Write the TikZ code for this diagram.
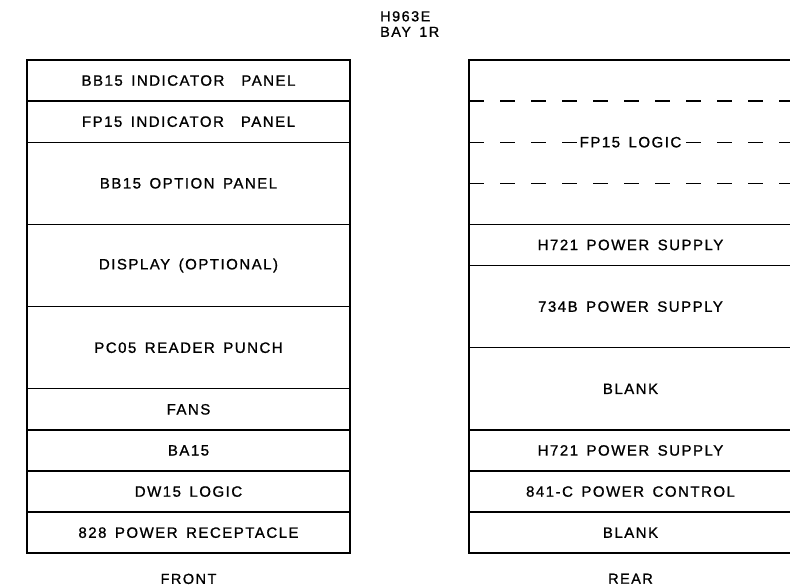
\documentclass[tikz,border=0pt]{standalone}
\usepackage{fontspec}
\setmainfont{Liberation Sans}
\newfontfamily\lettering{Liberation Sans}[LetterSpace=10, WordSpace=1.5, FakeBold=1]
\usepackage{tikz}
\usetikzlibrary{positioning, calc}

\newlength{\slotunit}
\setlength{\slotunit}{41.1pt}

\tikzset{
  slot/.style={draw, line width=1.3pt, minimum width=323pt,
    minimum height=#1\slotunit, inner sep=0pt, outer sep=0pt},
  slot/.default=1,
  baylabel/.style={font=\lettering\fontsize{14.5}{15.5}\selectfont},
}

\begin{document}
\begin{tikzpicture}[font=\lettering\fontsize{15}{16}\selectfont]
  \useasboundingbox (0,0) rectangle (790pt,-587pt);

  \node[baylabel, align=left, anchor=north west, inner sep=0pt] (title) at (380pt,-11pt) {H963E\\BAY 1R};

  % front bay
  \node[slot, anchor=north west] (front1) at (27pt,-60pt) {BB15 INDICATOR \ PANEL};
  \node[slot, below=0pt of front1] (front2) {FP15 INDICATOR \ PANEL};
  \node[slot=2, below=0pt of front2] (front3) {BB15 OPTION PANEL};
  \node[slot=2, below=0pt of front3] (front4) {DISPLAY (OPTIONAL)};
  \node[slot=2, below=0pt of front4] (front5) {PC05 READER PUNCH};
  \node[slot, below=0pt of front5] (front6) {FANS};
  \node[slot, below=0pt of front6] (front7) {BA15};
  \node[slot, below=0pt of front7] (front8) {DW15 LOGIC};
  \node[slot, below=0pt of front8] (front9) {828 POWER RECEPTACLE};
  \draw[line width=2pt] (front1.north west) rectangle (front9.south east);
  \node[baylabel, below=17pt of front9] (front) {FRONT};

  % rear bay
  \node[slot=4, anchor=north west] (rear1) at (469pt,-60pt) {};
  \foreach \f in {0.25,0.5,0.75}
    \draw[line width=1.3pt, dash pattern=on 15pt off 16pt]
      ($(rear1.north west)!\f!(rear1.south west)$) -- ($(rear1.north east)!\f!(rear1.south east)$);
  \node[fill=white, inner xsep=3pt, inner ysep=1pt] (logic) at (rear1.center) {FP15 LOGIC};
  \node[slot, below=0pt of rear1] (rear2) {H721 POWER SUPPLY};
  \node[slot=2, below=0pt of rear2] (rear3) {734B POWER SUPPLY};
  \node[slot=2, below=0pt of rear3] (rear4) {BLANK};
  \node[slot, below=0pt of rear4] (rear5) {H721 POWER SUPPLY};
  \node[slot, below=0pt of rear5] (rear6) {841-C POWER CONTROL};
  \node[slot, below=0pt of rear6] (rear7) {BLANK};
  \draw[line width=2pt] (rear1.north west) rectangle (rear7.south east);
  \node[baylabel, below=17pt of rear7] (rear) {REAR};
\end{tikzpicture}
\end{document}
